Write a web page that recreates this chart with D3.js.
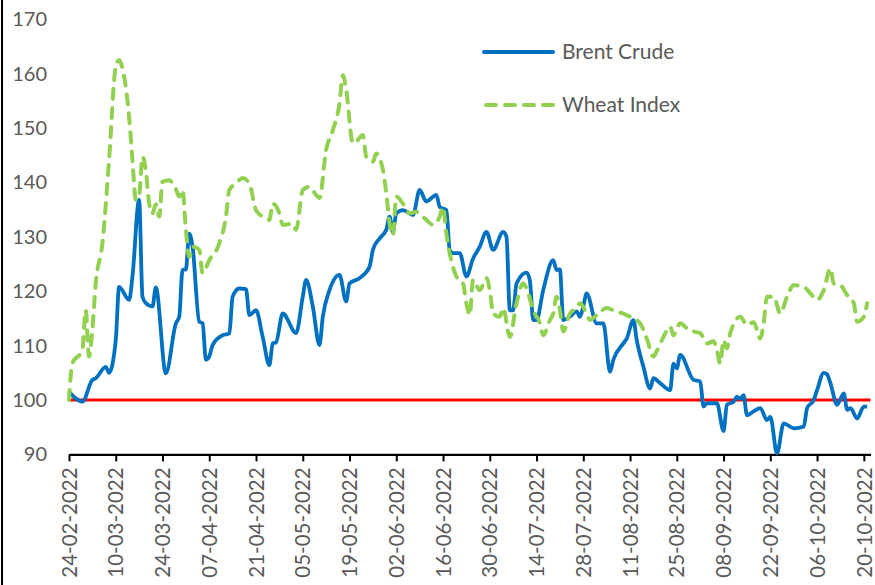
<!DOCTYPE html>
<html><head><meta charset="utf-8">
<script src="https://cdn.jsdelivr.net/npm/d3@7/dist/d3.min.js"></script>
<style>
html,body{margin:0;padding:0;background:#fff;}
svg{display:block;font-family:Lato,"Open Sans",sans-serif;}
</style></head>
<body>
<svg id="chart" width="875" height="585"></svg>
<script>
// ---- data ----
const tickLabels = ["24-02-2022","10-03-2022","24-03-2022","07-04-2022","21-04-2022","05-05-2022","19-05-2022","02-06-2022","16-06-2022","30-06-2022","14-07-2022","28-07-2022","11-08-2022","25-08-2022","08-09-2022","22-09-2022","06-10-2022","20-10-2022"];
const yTicks = [90,100,110,120,130,140,150,160,170];
const seriesNames = ["Brent Crude","Wheat Index"];
const baseline = 100;

const brentDates = ["2022-02-24","2022-02-28","2022-03-03","2022-03-04","2022-03-07","2022-03-08","2022-03-10","2022-03-11","2022-03-14","2022-03-15","2022-03-17","2022-03-18","2022-03-19","2022-03-21","2022-03-22","2022-03-25","2022-03-28","2022-03-29","2022-03-30","2022-03-31","2022-04-01","2022-04-02","2022-04-04","2022-04-05","2022-04-06","2022-04-07","2022-04-08","2022-04-11","2022-04-13","2022-04-14","2022-04-16","2022-04-18","2022-04-19","2022-04-21","2022-04-23","2022-04-25","2022-04-26","2022-04-27","2022-04-29","2022-05-03","2022-05-05","2022-05-06","2022-05-08","2022-05-10","2022-05-11","2022-05-13","2022-05-16","2022-05-18","2022-05-19","2022-05-22","2022-05-25","2022-05-26","2022-05-28","2022-05-30","2022-05-31","2022-06-01","2022-06-02","2022-06-04","2022-06-07","2022-06-09","2022-06-11","2022-06-14","2022-06-15","2022-06-17","2022-06-18","2022-06-19","2022-06-21","2022-06-23","2022-06-25","2022-06-27","2022-06-29","2022-07-01","2022-07-04","2022-07-05","2022-07-06","2022-07-07","2022-07-08","2022-07-11","2022-07-12","2022-07-13","2022-07-14","2022-07-16","2022-07-19","2022-07-20","2022-07-21","2022-07-22","2022-07-24","2022-07-26","2022-07-27","2022-07-28","2022-07-29","2022-08-01","2022-08-03","2022-08-05","2022-08-06","2022-08-09","2022-08-10","2022-08-12","2022-08-13","2022-08-15","2022-08-17","2022-08-18","2022-08-20","2022-08-23","2022-08-24","2022-08-25","2022-08-26","2022-08-30","2022-09-01","2022-09-02","2022-09-03","2022-09-06","2022-09-08","2022-09-09","2022-09-11","2022-09-12","2022-09-13","2022-09-14","2022-09-15","2022-09-17","2022-09-19","2022-09-21","2022-09-22","2022-09-24","2022-09-26","2022-09-29","2022-10-02","2022-10-03","2022-10-05","2022-10-06","2022-10-08","2022-10-09","2022-10-10","2022-10-12","2022-10-14","2022-10-15","2022-10-16","2022-10-18","2022-10-20","2022-10-21"];
const brentValues = [101.5,99.7,103.7,104,106.1,105,111,120.8,118.4,122.7,136.8,119,117.8,117.2,120.7,104.9,114.1,115.3,123.9,124,130.6,128.2,114.4,114.1,107.4,108,110.1,111.9,112.2,119,120.5,120.4,115.6,116.5,111.6,106.4,110.4,110.6,115.9,112.3,119,122.1,117.2,110.1,115.3,120.2,123,118.1,121.4,122.4,124.5,127.6,129.7,131.3,133.7,130.9,134.3,134.9,134,138.6,136.5,137.7,135.5,134.9,127.6,127,127,122.7,126,128.2,130.9,127.6,130.9,130,116.5,116.5,121.4,123.4,122,114.7,114.7,120.2,125.7,123.9,124,114.7,115.3,116.3,115.3,117.2,119.6,114.1,114.1,105.2,107.4,110.4,111.3,114.7,111,106.1,102.1,104,103.1,101.8,106.7,105.8,108.3,103.7,103.4,98.8,99.4,99.4,94.3,99.1,99.7,100.6,100.2,100.9,97.2,97.9,98.5,96.3,96.9,90.2,95.7,94.8,95.1,98.5,100,101.8,105,104.7,103.1,99.1,101.2,98.2,98.5,96.6,98.8,98.8];

const wheatDates = ["2022-02-24","2022-02-25","2022-02-28","2022-03-01","2022-03-02","2022-03-03","2022-03-04","2022-03-06","2022-03-08","2022-03-10","2022-03-11","2022-03-12","2022-03-14","2022-03-15","2022-03-16","2022-03-17","2022-03-18","2022-03-19","2022-03-20","2022-03-21","2022-03-22","2022-03-23","2022-03-24","2022-03-26","2022-03-28","2022-03-29","2022-03-30","2022-03-31","2022-04-01","2022-04-02","2022-04-04","2022-04-05","2022-04-07","2022-04-10","2022-04-12","2022-04-13","2022-04-15","2022-04-17","2022-04-19","2022-04-21","2022-04-23","2022-04-25","2022-04-26","2022-04-28","2022-04-29","2022-05-02","2022-05-03","2022-05-05","2022-05-07","2022-05-09","2022-05-10","2022-05-12","2022-05-14","2022-05-16","2022-05-17","2022-05-18","2022-05-20","2022-05-21","2022-05-23","2022-05-24","2022-05-26","2022-05-27","2022-05-29","2022-05-30","2022-05-31","2022-06-01","2022-06-02","2022-06-04","2022-06-06","2022-06-08","2022-06-11","2022-06-13","2022-06-15","2022-06-16","2022-06-17","2022-06-18","2022-06-20","2022-06-22","2022-06-23","2022-06-24","2022-06-25","2022-06-27","2022-06-29","2022-06-30","2022-07-01","2022-07-03","2022-07-04","2022-07-06","2022-07-08","2022-07-10","2022-07-11","2022-07-13","2022-07-15","2022-07-16","2022-07-18","2022-07-19","2022-07-20","2022-07-21","2022-07-22","2022-07-24","2022-07-26","2022-07-27","2022-07-29","2022-07-30","2022-08-01","2022-08-04","2022-08-07","2022-08-09","2022-08-11","2022-08-14","2022-08-16","2022-08-18","2022-08-19","2022-08-21","2022-08-23","2022-08-24","2022-08-26","2022-08-28","2022-08-30","2022-09-01","2022-09-03","2022-09-05","2022-09-06","2022-09-07","2022-09-08","2022-09-09","2022-09-10","2022-09-13","2022-09-15","2022-09-17","2022-09-19","2022-09-20","2022-09-21","2022-09-23","2022-09-25","2022-09-27","2022-09-29","2022-10-02","2022-10-04","2022-10-06","2022-10-08","2022-10-10","2022-10-11","2022-10-13","2022-10-15","2022-10-17","2022-10-18","2022-10-20","2022-10-21"];
const wheatValues = [100,106.7,109.2,116.5,108,113,121.4,128.8,144.1,161.3,162.5,161,152,144.1,136.8,137.6,144.7,142.3,136.1,134.3,136,133.7,140.1,140.4,138.8,137.4,138.6,131.3,126.3,128.2,127.6,123.3,125.7,128.8,133.7,138.6,139.8,140.8,139.8,134.9,133.7,133.1,136.1,134.3,132.2,132.4,131.3,138.6,139.2,137.7,137.1,146,149.6,154.5,159.7,157,147.2,147.5,148.7,144.7,143.8,145.3,142.3,138,132.5,130.3,137.4,136.1,134.3,134.6,133.1,132.2,133.7,135.5,130.6,127,122.7,121.4,117.8,115.6,122.1,120.2,122.4,120.2,115.9,115.3,116.9,111.6,117.8,121.4,120.5,116.5,114.1,111.9,114.7,115.9,119,116.5,112.6,115.9,116.9,117.8,115.9,114.7,115.6,116.9,116.2,115.9,115.3,114.1,111.3,108,109,111.6,113.5,111.9,114.1,113.2,112.6,112.3,110.4,110.8,109.2,106.7,111,109.5,112.3,115.3,113.8,114.3,111.3,114.1,119,119,115.9,119,121.1,120.8,119.6,118.4,120.2,124.2,121.4,121.1,119.3,117.8,114.4,115.3,117.8];

// ---- drawing ----
const parseISO = d3.timeParse("%Y-%m-%d");
const parseTick = d3.timeParse("%d-%m-%Y");
const brent = brentDates.map((d,i)=>({date:parseISO(d), v:brentValues[i]}));
const wheat = wheatDates.map((d,i)=>({date:parseISO(d), v:wheatValues[i]}));
const tickDates = tickLabels.map(parseTick);

const svg = d3.select("#chart");
const x = d3.scaleTime()
  .domain([parseTick("24-02-2022"), parseTick("22-10-2022")])
  .range([69, 870.5]);
const y = d3.scaleLinear().domain([90,170]).range([454.4,19.2]);

const textColor = "#595959";

// left border line
svg.append("line").attr("x1",2).attr("x2",2).attr("y1",0).attr("y2",585)
  .attr("stroke","#000").attr("stroke-width",2);

// y tick labels
svg.append("g").selectAll("text").data(yTicks).join("text")
  .attr("x",47).attr("y",d=>y(d)).attr("dy","0.35em")
  .attr("text-anchor","end").attr("font-size",20).attr("fill",textColor)
  .text(d=>d);

// x axis
const xAxis = d3.axisBottom(x).tickValues(tickDates).tickSize(7).tickSizeOuter(0)
  .tickFormat((d,i)=>tickLabels[i]);
const gx = svg.append("g").attr("transform","translate(0,454.4)").call(xAxis);
gx.select(".domain").attr("stroke","#000").attr("stroke-width",2.2);
gx.selectAll(".tick line").attr("stroke","#000").attr("stroke-width",2);
gx.selectAll(".tick text")
  .attr("transform","rotate(-90)")
  .attr("x",-13).attr("y",0).attr("dy","0.35em")
  .attr("text-anchor","end")
  .attr("font-size",20.5).attr("fill",textColor)
  .attr("font-family","Lato, 'Open Sans', sans-serif");

// baseline at 100
svg.append("line")
  .attr("x1",x.range()[0]).attr("x2",x.range()[1])
  .attr("y1",y(baseline)).attr("y2",y(baseline))
  .attr("stroke","#FF0000").attr("stroke-width",3);

const line = d3.line().x(d=>x(d.date)).y(d=>y(d.v)).curve(d3.curveMonotoneX);

svg.append("path").datum(brent).attr("d",line)
  .attr("fill","none").attr("stroke","#0070C0").attr("stroke-width",3.8)
  .attr("stroke-linejoin","round");

svg.append("path").datum(wheat).attr("d",line)
  .attr("fill","none").attr("stroke","#92D050").attr("stroke-width",4)
  .attr("stroke-dasharray","10,9").attr("stroke-linecap","round").attr("stroke-linejoin","round");

// legend
const legend = svg.append("g");
legend.append("line").attr("x1",484).attr("x2",553).attr("y1",52).attr("y2",52)
  .attr("stroke","#0070C0").attr("stroke-width",4).attr("stroke-linecap","round");
legend.append("line").attr("x1",486).attr("x2",553).attr("y1",105).attr("y2",105)
  .attr("stroke","#92D050").attr("stroke-width",4)
  .attr("stroke-dasharray","10,9").attr("stroke-linecap","round");
legend.selectAll("text").data(seriesNames).join("text")
  .attr("x",562).attr("y",(d,i)=>52+i*53).attr("dy","0.35em")
  .attr("font-size",21).attr("fill",textColor).text(d=>d);
</script>
</body></html>
